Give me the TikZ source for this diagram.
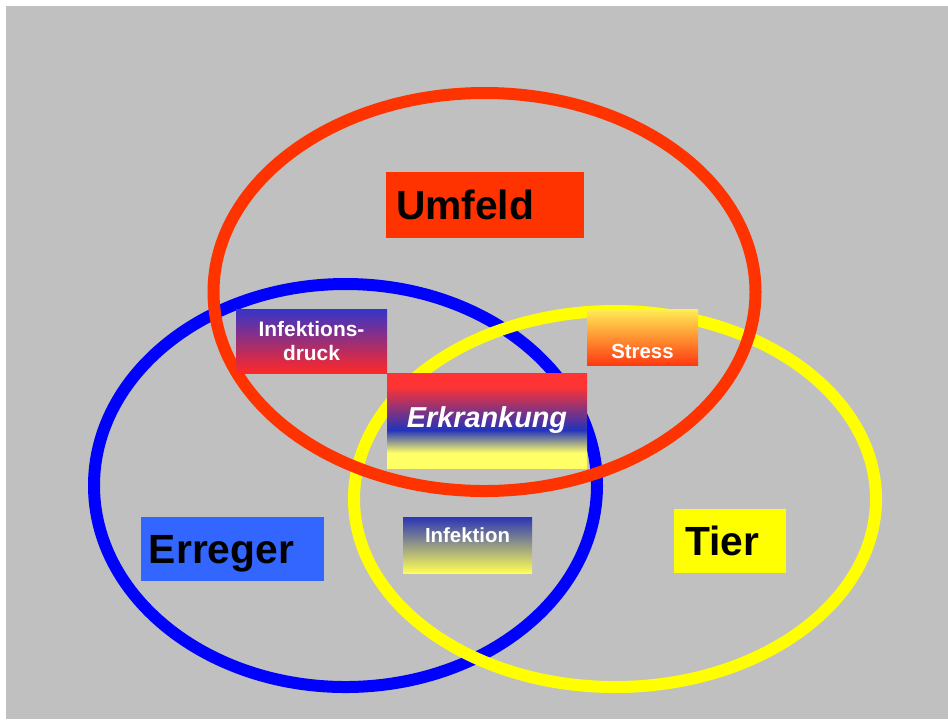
\documentclass[tikz,border=0pt]{standalone}
\usepackage{fontspec}
\setmainfont{Liberation Sans}
\usepackage{xcolor}
\usepackage{tikz}

\definecolor{bggray}{HTML}{C0C0C0}
\definecolor{umred}{HTML}{FF3300}
\definecolor{ringblue}{HTML}{0000FF}
\definecolor{ringyellow}{HTML}{FFFF00}
\definecolor{erblue}{HTML}{3366FF}
\definecolor{drblue}{HTML}{3535C8}
\definecolor{drred}{HTML}{FF2828}
\definecolor{styellow}{HTML}{FFEE55}
\definecolor{stred}{HTML}{FF3A10}
\definecolor{infblue}{HTML}{2A35B5}
\definecolor{infyellow}{HTML}{FFFF55}
\definecolor{ekred}{HTML}{FF3333}
\definecolor{ekblue}{HTML}{2233BB}
\definecolor{ekyellow}{HTML}{FFFF66}

\pgfdeclareverticalshading{erkshade}{100bp}{color(0bp)=(ekyellow); color(33bp)=(ekyellow); color(45bp)=(ekblue); color(68bp)=(ekred); color(100bp)=(ekred)}

\begin{document}
\begin{tikzpicture}[x=0.2mm,y=-0.2mm]
\tikzset{
  ring/.style={line width=2.4mm},
  bigbox/.style={inner ysep=0pt, align=left, text=black, font=\bfseries\fontsize{23.2}{28}\selectfont},
  smallbox/.style={inner xsep=0pt, inner ysep=0pt, align=center, text=white, font=\bfseries\fontsize{11.6}{14.2}\selectfont}
}
\useasboundingbox (0,0) rectangle (948,719);
\fill[white] (0,0) rectangle (948,719);
\fill[bggray] (6,6) rectangle (948,719);

\draw[ring, ringblue] (345.5,485.5) ellipse [x radius=50.3mm, y radius=40.3mm];
\draw[ring, ringyellow] (615,499) ellipse [x radius=52.2mm, y radius=37.6mm];
\draw[ring, umred] (484.5,292) ellipse [x radius=54.2mm, y radius=39.8mm];

\node[bigbox, fill=umred, inner xsep=2mm, text width=35.6mm, minimum height=13.2mm] (umfeld) at (485,205) {Umfeld};
\node[bigbox, fill=erblue, inner xsep=1.6mm, text width=33.4mm, minimum height=12.8mm, text depth=0pt] (erreger) at (232.5,549) {Erreger};
\node[bigbox, fill=ringyellow, inner xsep=2.2mm, text width=18mm, minimum height=12.8mm] (tier) at (730,541) {Tier};

\node[smallbox, top color=drblue, bottom color=drred, minimum width=30.2mm, minimum height=12.8mm, font=\bfseries\fontsize{11.9}{14.2}\selectfont] (druck) at (311.5,341) {Infektions-\\druck};
\node[smallbox, top color=styellow, bottom color=stred, minimum width=22.2mm, text height=9.8mm, text depth=1.4mm] (stress) at (642.5,337) {Stress};
\node[smallbox, shading=erkshade, minimum width=40mm, minimum height=19mm, font=\bfseries\itshape\fontsize{16.4}{20}\selectfont] (erkrankung) at (487,420.5) {Erkrankung};
\node[smallbox, top color=infblue, bottom color=infyellow, minimum width=25.8mm, text height=5mm, text depth=6.2mm] (infektion) at (467.5,545) {Infektion};
\end{tikzpicture}
\end{document}
